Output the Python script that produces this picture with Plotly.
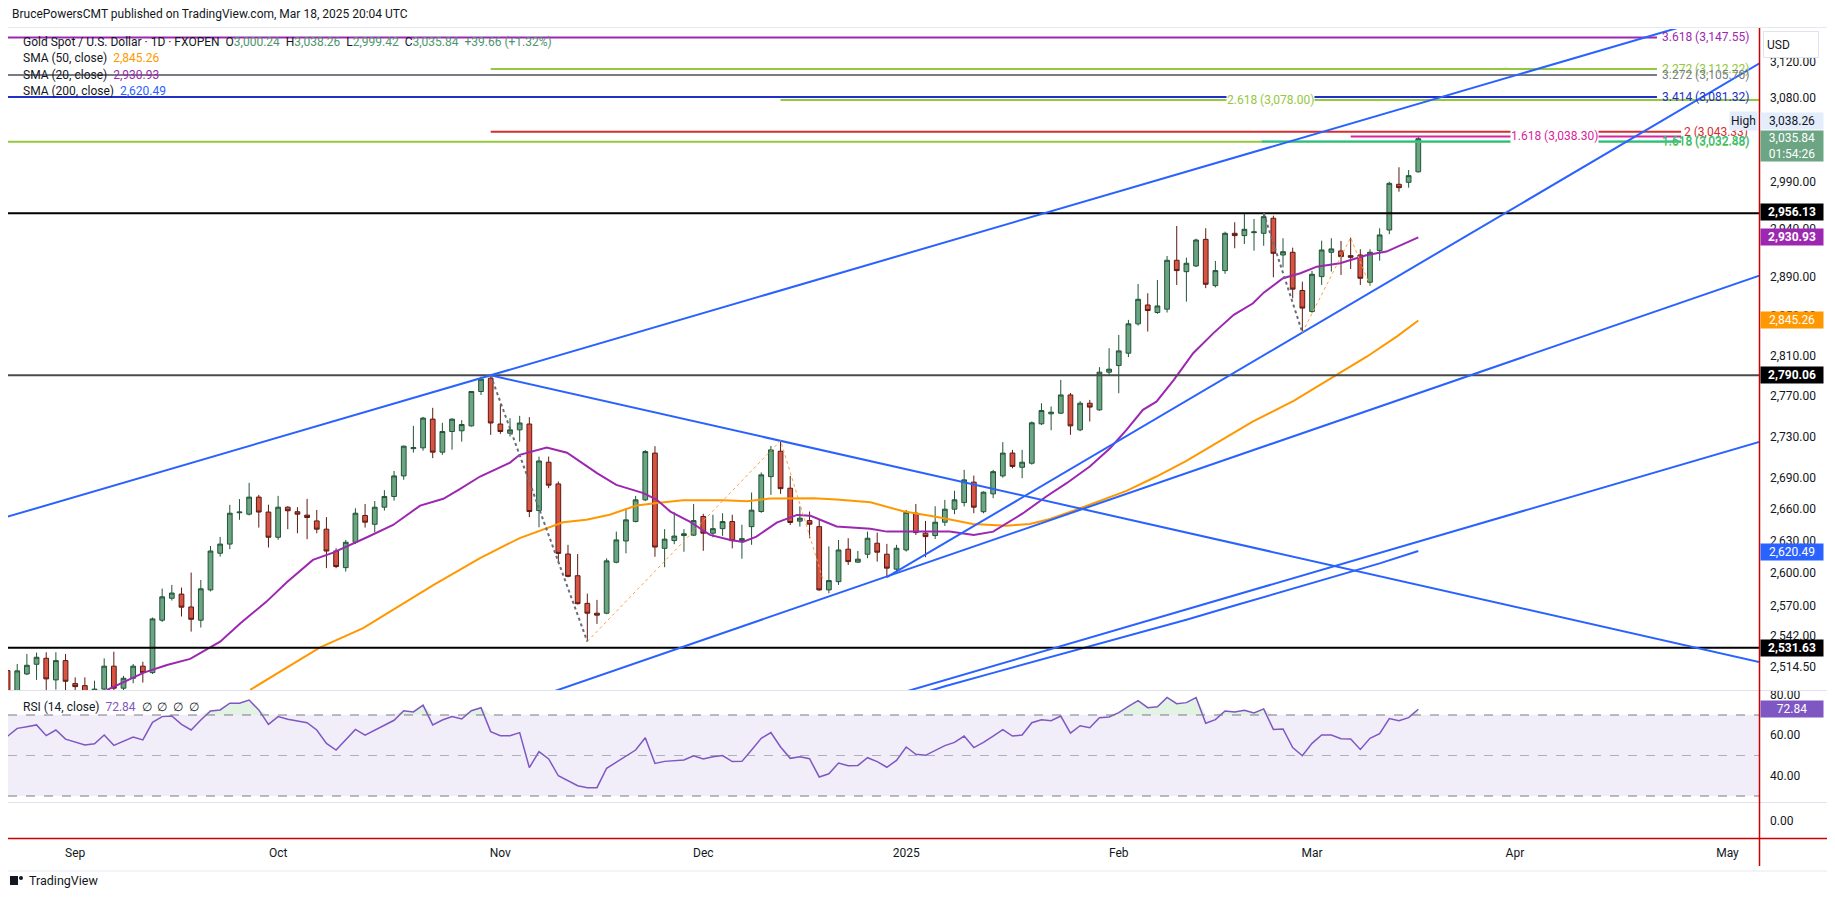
import math
import numpy as np
import pandas as pd
import plotly.graph_objects as go

# ---------------------------------------------------------------- data
HOLIDAYS = ["2024-12-25", "2025-01-01"]
FIRST_DAY = "2024-08-22"
LAST_DAY = "2025-03-18"
AXIS_END_DAY = "2025-05-09"
BAR0_DAY = "2024-09-02"

OPEN = [2511.0, 2485.0, 2508.0, 2516.7, 2522.1, 2502.7, 2520.0,
        2499.4, 2497.6, 2491.0, 2494.5, 2515.0, 2495.3, 2504.2, 2515.0, 2509.2, 2556.6, 2576.7, 2580.5, 2568.7,
        2556.6, 2584.4, 2618.4, 2627.0, 2656.5, 2655.2, 2671.4, 2657.2,
        2633.4, 2661.8, 2657.5, 2654.3, 2648.8, 2641.0, 2620.5, 2605.0, 2628.7, 2653.9, 2645.6, 2661.8, 2672.0,
        2691.7, 2718.0, 2718.8, 2746.8, 2714.6, 2734.7, 2735.4, 2740.2, 2774.0, 2787.2,
        2742.0, 2733.0, 2736.3, 2742.0, 2658.6, 2704.9, 2684.0, 2617.7, 2597.5, 2572.0, 2563.0, 2563.0, 2610.0,
        2629.9, 2648.2, 2668.8, 2713.7, 2623.0, 2630.3, 2635.0, 2635.4,
        2653.0, 2637.2, 2641.5, 2648.2, 2630.2, 2643.4, 2657.7, 2691.0, 2715.5, 2679.9, 2648.6, 2649.1, 2643.4,
        2584.4, 2592.0, 2622.2, 2610.1, 2617.5, 2627.8, 2617.5, 2603.6,
        2621.5, 2656.1, 2637.2, 2635.0, 2647.6, 2659.9, 2666.2, 2685.7, 2657.5, 2674.5, 2691.7, 2713.7, 2700.0,
        2703.9, 2742.2, 2752.0, 2752.6, 2770.6, 2736.3, 2762.4, 2755.9, 2793.2,
        2799.8, 2812.2, 2841.8, 2861.0, 2853.3, 2856.7, 2907.0, 2895.2, 2901.1, 2928.8, 2880.8, 2896.3, 2935.1,
        2932.7, 2935.8, 2935.1, 2950.9, 2912.5, 2915.3, 2875.8,
        2854.3, 2890.1, 2915.3, 2916.7, 2911.8, 2912.5, 2884.3, 2917.0, 2938.6, 2986.9, 2989.0, 3000.24]
HIGH = [2514.0, 2517.0, 2526.0, 2527.2, 2527.5, 2527.5, 2526.0,
        2505.0, 2505.0, 2502.0, 2522.0, 2528.0, 2506.3, 2517.0, 2519.0, 2559.0, 2585.6, 2589.0, 2586.5, 2600.4,
        2593.6, 2625.2, 2633.7, 2664.0, 2669.5, 2685.0, 2673.5, 2664.2,
        2672.6, 2662.7, 2661.8, 2669.7, 2659.2, 2652.4, 2623.0, 2630.9, 2660.8, 2664.9, 2667.7, 2678.0, 2696.5,
        2721.0, 2740.2, 2749.0, 2757.9, 2743.2, 2747.5, 2745.8, 2774.5, 2788.8, 2790.06,
        2761.8, 2747.7, 2750.0, 2748.7, 2710.3, 2710.3, 2686.3, 2626.3, 2617.7, 2581.0, 2575.2, 2613.7, 2638.7,
        2660.8, 2672.6, 2716.5, 2720.4, 2641.0, 2656.8, 2641.0, 2664.9,
        2655.5, 2654.6, 2656.1, 2654.6, 2645.2, 2675.8, 2695.0, 2720.6, 2725.8, 2691.7, 2662.7, 2657.7, 2650.5,
        2624.8, 2630.9, 2632.5, 2620.6, 2638.7, 2637.8, 2627.2, 2626.3,
        2659.2, 2664.9, 2648.8, 2662.7, 2668.8, 2677.4, 2697.5, 2692.0, 2677.0, 2697.5, 2724.3, 2716.8, 2716.8,
        2744.5, 2762.4, 2759.2, 2785.5, 2772.5, 2764.5, 2765.7, 2798.2, 2817.2,
        2830.6, 2845.8, 2882.5, 2873.0, 2886.6, 2911.4, 2942.8, 2909.7, 2929.5, 2940.4, 2906.3, 2936.8, 2946.7,
        2955.4, 2950.2, 2956.13, 2953.6, 2929.9, 2920.1, 2884.9,
        2896.0, 2927.4, 2929.9, 2927.1, 2930.6, 2918.5, 2918.5, 2940.4, 2989.5, 3005.1, 3002.2, 3038.26]
LOW = [2471.0, 2483.0, 2507.0, 2502.7, 2492.0, 2494.0, 2491.0,
       2488.0, 2472.0, 2484.0, 2490.0, 2485.0, 2486.0, 2499.7, 2500.3, 2508.0, 2555.0, 2574.6, 2560.0, 2546.2,
       2549.9, 2583.0, 2615.3, 2622.2, 2649.8, 2654.0, 2642.5, 2623.8,
       2631.0, 2641.0, 2637.2, 2631.6, 2637.2, 2604.5, 2604.5, 2601.3, 2627.0, 2642.5, 2638.1, 2658.6, 2668.0,
       2688.0, 2714.2, 2716.0, 2708.8, 2712.0, 2717.0, 2724.8, 2739.5, 2770.6, 2731.4,
       2732.4, 2729.8, 2724.8, 2652.4, 2642.8, 2679.9, 2609.1, 2596.0, 2571.0, 2537.2, 2553.2, 2562.0, 2609.0,
       2618.3, 2647.5, 2667.5, 2615.1, 2605.4, 2626.9, 2619.8, 2634.5,
       2620.7, 2633.4, 2634.7, 2623.0, 2613.3, 2626.3, 2656.5, 2673.5, 2674.5, 2645.0, 2643.4, 2632.5, 2583.5,
       2581.3, 2589.0, 2607.5, 2609.5, 2613.8, 2610.6, 2596.1, 2601.0,
       2620.0, 2635.6, 2614.8, 2631.8, 2644.0, 2655.2, 2662.5, 2656.1, 2656.0, 2670.4, 2690.0, 2699.0, 2689.5,
       2702.5, 2741.0, 2735.9, 2752.0, 2731.4, 2735.0, 2744.5, 2755.0, 2790.5,
       2772.3, 2808.2, 2840.1, 2834.0, 2852.0, 2853.3, 2881.5, 2864.4, 2900.0, 2878.2, 2879.0, 2893.0, 2919.5,
       2923.9, 2917.0, 2922.1, 2889.4, 2899.7, 2867.9, 2833.0,
       2853.0, 2881.5, 2895.3, 2891.8, 2898.0, 2881.5, 2880.8, 2906.6, 2934.2, 2979.0, 2983.3, 2999.42]
CLOSE = [2485.0, 2510.8, 2515.8, 2523.0, 2503.6, 2520.0, 2501.5,
         2496.7, 2491.0, 2494.5, 2515.0, 2495.3, 2504.2, 2515.0, 2509.2, 2557.8, 2578.0, 2581.5, 2568.5, 2557.4,
         2585.4, 2620.5, 2627.0, 2656.1, 2657.2, 2671.4, 2657.2, 2633.4,
         2661.8, 2658.4, 2655.2, 2652.0, 2641.0, 2620.5, 2606.0, 2628.7, 2656.1, 2647.6, 2661.8, 2672.0, 2691.7,
         2720.4, 2719.0, 2747.8, 2714.6, 2734.7, 2746.8, 2741.5, 2774.0, 2786.2, 2743.0,
         2734.7, 2736.3, 2743.0, 2657.7, 2706.1, 2682.8, 2618.3, 2596.9, 2571.7, 2563.0, 2561.2, 2611.3, 2630.9,
         2649.8, 2668.8, 2715.2, 2624.2, 2631.6, 2634.5, 2636.7, 2649.1,
         2637.2, 2641.5, 2648.2, 2630.2, 2632.1, 2659.0, 2692.7, 2716.8, 2679.5, 2647.3, 2651.4, 2645.7, 2584.4,
         2593.0, 2621.5, 2610.6, 2612.9, 2632.5, 2619.4, 2604.5, 2623.1,
         2657.0, 2637.8, 2634.0, 2647.6, 2659.9, 2668.8, 2687.9, 2661.8, 2676.1, 2695.8, 2713.7, 2700.8, 2704.9,
         2743.2, 2755.2, 2753.6, 2770.6, 2740.2, 2762.4, 2758.6, 2793.2, 2796.2,
         2814.5, 2841.8, 2866.8, 2855.3, 2860.0, 2907.0, 2896.3, 2903.9, 2928.1, 2882.2, 2896.3, 2935.1, 2932.7,
         2939.3, 2936.6, 2952.6, 2914.2, 2915.9, 2877.2, 2857.8,
         2892.5, 2917.7, 2918.8, 2910.8, 2910.1, 2888.4, 2915.3, 2933.4, 2987.9, 2983.3, 2996.1, 3035.84]

RSI = [59.5, 63.4, 64.2, 65.1, 59.8, 62.6, 58.1,
       56.8, 55.2, 55.8, 60.1, 55.0, 57.2, 59.1, 57.7, 66.4, 69.2, 69.5, 65.4, 62.6, 67.5, 72.0, 72.5, 75.8,
       75.8, 77.4, 72.5, 65.4,
       69.2, 67.9, 67.0, 66.2, 62.6, 56.0, 52.7, 58.0, 62.9, 60.1, 62.6, 64.7, 67.4, 72.1, 71.5, 74.9, 65.1,
       67.5, 69.2, 68.0, 72.1, 73.6, 61.8,
       59.8, 59.8, 61.3, 44.0, 51.9, 48.3, 40.0, 37.6, 35.1, 34.1, 34.1, 43.7, 46.6, 49.8, 52.7, 58.8, 46.1,
       47.1, 47.4, 47.8, 49.9,
       48.3, 49.4, 50.0, 47.0, 47.1, 52.7, 58.5, 61.3, 54.2, 48.6, 49.4, 48.4, 39.4, 41.0, 46.3, 45.0, 45.1,
       48.9, 47.0, 44.2, 47.6,
       54.2, 50.6, 50.1, 52.6, 54.9, 56.5, 59.6, 53.9, 56.5, 59.6, 62.8, 59.6, 60.1, 66.2, 67.7, 67.2, 69.5,
       61.1, 64.7, 63.7, 68.7, 69.0,
       71.2, 74.3, 77.1, 73.6, 74.1, 78.7, 75.6, 76.1, 78.6, 65.9, 67.7, 72.0, 71.5, 72.3, 71.0, 73.0, 62.9,
       63.1, 53.9, 49.9,
       56.0, 60.1, 60.1, 58.3, 58.1, 53.0, 58.5, 60.8, 68.2, 67.2, 68.7, 72.84]

# moving averages (bar number counted from 2024-09-02, price)
SMA20_BAR = [3.3, 7.1, 9.5, 11.9, 15.0, 17.1, 19.8, 21.9, 24.6, 26.7, 30.2, 32.9, 35.7, 38.1, 39.8, 41.9,
             45.0, 46.0, 48.8, 50.9, 54.0, 56.0, 58.8, 60.2, 61.6, 63.6, 65.7, 67.8, 69.1, 70.5, 72.6, 74.7,
             76.1, 78.8, 82.3, 84.0, 87.4, 90.5, 93.0, 95.0, 98.1, 100.5, 102.6, 105.0, 107.1, 108.8, 110.5,
             111.9, 113.7, 115.7, 117.8, 119.9, 121.9, 123.0, 125.0, 126.8, 128.5, 130.9, 133.7, 135.7, 139.0]
SMA20_VAL = [2493.8, 2509.2, 2516.1, 2521.5, 2537.1, 2553.9, 2573.6, 2591.5, 2612.2, 2619.0, 2633.4, 2645.0,
             2663.3, 2669.8, 2679.0, 2691.1, 2704.5, 2712.0, 2719.0, 2714.1, 2694.3, 2683.1, 2675.2, 2668.8,
             2657.6, 2648.2, 2635.6, 2630.9, 2629.0, 2634.0, 2647.2, 2654.5, 2653.6, 2643.5, 2641.3, 2638.7,
             2638.7, 2638.7, 2635.6, 2638.7, 2656.1, 2672.0, 2684.7, 2700.7, 2718.4, 2736.3, 2755.9, 2764.0,
             2785.5, 2812.2, 2832.4, 2850.9, 2862.7, 2873.6, 2888.4, 2893.6, 2900.4, 2903.9, 2912.5, 2916.0,
             2930.93]
SMA50_BAR = [18.1, 25.3, 29.8, 34.0, 37.1, 41.9, 43.0, 46.0, 50.5, 52.9, 55.3, 58.1, 60.2, 62.9, 67.1, 69.5,
             71.9, 76.4, 78.8, 82.3, 85.7, 89.5, 92.9, 96.4, 98.8, 100.9, 104.3, 108.8, 111.9, 115.0, 118.1,
             121.9, 126.1, 130.2, 133.7, 136.8, 139.0]
SMA50_VAL = [2493.8, 2531.7, 2549.3, 2572.2, 2589.1, 2613.9, 2619.1, 2632.6, 2647.5, 2650.0, 2654.7, 2663.4,
             2665.9, 2668.4, 2668.4, 2667.5, 2670.1, 2670.4, 2669.1, 2666.5, 2657.9, 2652.1, 2645.9, 2644.3,
             2645.9, 2650.6, 2661.7, 2677.3, 2691.1, 2706.2, 2723.3, 2744.5, 2764.8, 2788.1, 2808.9, 2829.1,
             2845.26]
SMA200_BAR = [85, 90, 95, 100, 105, 110, 115, 120, 125, 130, 135, 139]
SMA200_VAL = [2484.0, 2497.0, 2509.0, 2521.0, 2533.0, 2545.0, 2557.0, 2570.0, 2583.0, 2596.0, 2609.0, 2620.49]

# drawn trend lines: (bar, price) anchor pairs
TRENDLINES = [
    [(-7, 2652.8), (170, 3171.6)],    # upper channel line through the Oct 31 high
    [(84, 2487.4), (176, 2729.3)],    # parallel lower channel line
    [(40, 2464.4), (176, 2897.0)],    # long rising support
    [(84, 2596.1), (176, 3129.4)],    # Dec 30 low -> Feb 28 low
    [(43, 2790.06), (176, 2515.4)],   # Oct 31 high -> Dec 12 high
]
HLINES = [2956.13, 2790.06, 2531.63]
HLINE_COLORS = ["#000000", "#4a4a4a", "#000000"]

# fib-extension swing paths
SWING_GRAY = [[(43, 2790.06), (53, 2537.2)], [(123, 2956.13), (127, 2833.0)]]
SWING_ORANGE = [[(53, 2537.2), (73, 2725.8), (77.4, 2593.6)], [(127, 2833.0), (132, 2930.6), (134, 2880.8)]]

# fib levels: price, label, from bar, to bar
FIB_PRICE = [3147.55, 3112.22, 3105.70, 3081.32, 3078.00, 3043.33, 3038.30, 3032.48, 3032.88]
FIB_TEXT = ["3.618 (3,147.55)", "2.272 (3,112.22)", "3.272 (3,105.70)", "3.414 (3,081.32)",
            "2.618 (3,078.00)", "2 (3,043.33)", "1.618 (3,038.30)", "1.618 (3,032.48)", "1.618 (3,032.88)"]
FIB_FROM = [-7, 43, -7, -7, 73, 43, 132, -7, 122.8]
FIB_TO = [163.7, 163.7, 163.7, 163.7, 176, 166.2, 166.2, 166.2, 166.2]
FIB_COLOR = ["#9c27b0", "#94c83d", "#787b86", "#2130c8", "#94c83d", "#d32f2f", "#d6269b", "#94c83d", "#22c08e"]
FIB_LABEL_MODE = ["right", "right", "right", "right", "mid", "right2", "mid", "right", "right"]

MONTH_TICKS = ["2024-09-02", "2024-10-01", "2024-11-01", "2024-12-02", "2025-01-02", "2025-02-03",
               "2025-03-03", "2025-04-01", "2025-05-01"]
MONTH_TEXT = ["Sep", "Oct", "Nov", "Dec", "2025", "Feb", "Mar", "Apr", "May"]

PRICE_TICKS = [3120, 3080, 2990, 2940, 2890, 2850, 2810, 2770, 2730, 2690, 2660, 2630, 2600, 2570, 2542, 2514.5]
RSI_TICKS = [80, 60, 40]

# ---------------------------------------------------------------- calendar / positions
cal = pd.bdate_range(FIRST_DAY, AXIS_END_DAY)
cal = cal[~cal.isin(pd.to_datetime(HOLIDAYS))]
pos0 = cal.get_loc(pd.Timestamp(BAR0_DAY))


def bar_of(day):
    return cal.get_loc(pd.Timestamp(day)) - pos0


n_bars = int((cal <= pd.Timestamp(LAST_DAY)).sum())
XB = np.arange(n_bars) - pos0
assert len(OPEN) == len(HIGH) == len(LOW) == len(CLOSE) == len(RSI) == n_bars

# ---------------------------------------------------------------- layout geometry
# the page body adds an 8px margin, so the figure is placed 8px right / 8px down
PAGE_OFF = 8
W, H = 1835 - PAGE_OFF, 901 - PAGE_OFF
PLOT_L, PLOT_R, PLOT_T, PLOT_B = 8, 1759, 29, 838       # page pixels
ML, MT = PLOT_L - PAGE_OFF, PLOT_T - PAGE_OFF
MR, MB = W - (PLOT_R - PAGE_OFF), H - (PLOT_B - PAGE_OFF)
PW, PH = PLOT_R - PLOT_L, PLOT_B - PLOT_T
FONT = "Roboto, Arial, sans-serif"
TXT = "#131722"


def px(x):
    return (x - PLOT_L) / PW


def py(y):
    return (PLOT_B - y) / PH


X_RANGE = [-6.955, 174.26]
Y_RANGE = [math.log10(2493.7), math.log10(3157.1)]
RSI_RANGE = [27.04, 81.85]

fig = go.Figure()

# candles
fig.add_trace(go.Candlestick(
    x=XB, open=OPEN, high=HIGH, low=LOW, close=CLOSE,
    increasing=dict(fillcolor="#6ba583", line=dict(color="#225437", width=1)),
    decreasing=dict(fillcolor="#d75442", line=dict(color="#5b1a13", width=1)),
    whiskerwidth=0, showlegend=False, hoverinfo="skip", xaxis="x", yaxis="y"))

# moving averages
for bx, vals, col in [(SMA200_BAR, SMA200_VAL, "#2962ff"), (SMA50_BAR, SMA50_VAL, "#ff9800"),
                      (SMA20_BAR, SMA20_VAL, "#9c27b0")]:
    fig.add_trace(go.Scatter(x=bx, y=vals, mode="lines", line=dict(color=col, width=2),
                             showlegend=False, hoverinfo="skip", xaxis="x", yaxis="y"))

# horizontal levels
for lvl, col in zip(HLINES, HLINE_COLORS):
    fig.add_trace(go.Scatter(x=[X_RANGE[0] - 1, X_RANGE[1] + 1], y=[lvl, lvl], mode="lines",
                             line=dict(color=col, width=2), showlegend=False, hoverinfo="skip"))

# fib levels
for p, a, b, c in zip(FIB_PRICE, FIB_FROM, FIB_TO, FIB_COLOR):
    fig.add_trace(go.Scatter(x=[a, b], y=[p, p], mode="lines", line=dict(color=c, width=2),
                             showlegend=False, hoverinfo="skip"))

# trend lines
for seg in TRENDLINES:
    fig.add_trace(go.Scatter(x=[q[0] for q in seg], y=[q[1] for q in seg], mode="lines",
                             line=dict(color="#2962ff", width=2), showlegend=False, hoverinfo="skip"))

# swing paths
for seg in SWING_GRAY:
    fig.add_trace(go.Scatter(x=[q[0] for q in seg], y=[q[1] for q in seg], mode="lines",
                             line=dict(color="#6a6d78", width=2, dash="dot"), showlegend=False,
                             hoverinfo="skip"))
for seg in SWING_ORANGE:
    fig.add_trace(go.Scatter(x=[q[0] for q in seg], y=[q[1] for q in seg], mode="lines",
                             line=dict(color="#ffa040", width=1, dash="dot"), showlegend=False,
                             hoverinfo="skip"))

# RSI pane
rsi_top = [max(v, 70) for v in RSI]
fig.add_trace(go.Scatter(x=XB, y=[70] * n_bars, mode="lines", line=dict(width=0), showlegend=False,
                         hoverinfo="skip", xaxis="x", yaxis="y2"))
fig.add_trace(go.Scatter(x=XB, y=rsi_top, mode="lines", line=dict(width=0), fill="tonexty",
                         fillcolor="rgba(76,175,80,0.16)", showlegend=False, hoverinfo="skip",
                         xaxis="x", yaxis="y2"))
fig.add_trace(go.Scatter(x=XB, y=RSI, mode="lines", line=dict(color="#7e57c2", width=1.5),
                         showlegend=False, hoverinfo="skip", xaxis="x", yaxis="y2"))
# third (empty) pane placeholder
fig.add_trace(go.Scatter(x=[XB[0]], y=[5], mode="markers", marker=dict(opacity=0), showlegend=False,
                         hoverinfo="skip", xaxis="x", yaxis="y3"))

shapes = []
shapes.append(dict(type="rect", xref="paper", yref="y2", x0=0, x1=1, y0=30, y1=70,
                   fillcolor="rgba(126,87,194,0.10)", line=dict(width=0), layer="below"))
for lv, col in [(70, "#787b86"), (30, "#787b86"), (50, "rgba(120,123,134,0.55)")]:
    shapes.append(dict(type="line", xref="paper", yref="y2", x0=0, x1=1, y0=lv, y1=lv,
                       line=dict(color=col, width=1, dash="dash")))
for yy in [690.5, 802.5]:
    shapes.append(dict(type="line", xref="paper", yref="paper", x0=0, x1=px(1828), y0=py(yy), y1=py(yy),
                       line=dict(color="#e0e3eb", width=1)))
shapes.append(dict(type="rect", xref="paper", yref="paper", x0=px(7.5), x1=px(1828.5), y0=py(871),
                   y1=py(27.5), line=dict(color="#e6e8ee", width=1)))
shapes.append(dict(type="line", xref="paper", yref="paper", x0=0, x1=px(1828), y0=py(838.5), y1=py(838.5),
                   line=dict(color="#cc0000", width=1.5)))
shapes.append(dict(type="line", xref="paper", yref="paper", x0=px(1759.5), x1=px(1759.5), y0=py(866),
                   y1=py(28), line=dict(color="#cc0000", width=1.5)))
shapes.append(dict(type="rect", xref="paper", yref="paper", x0=px(10), x1=px(18), y0=py(885), y1=py(876),
                   fillcolor="#131722", line=dict(width=0)))
shapes.append(dict(type="circle", xref="paper", yref="paper", x0=px(19), x1=px(23), y0=py(880), y1=py(876),
                   fillcolor="#131722", line=dict(width=0)))

ann = []


def add_text(x, y, text, size=12, color=TXT, xanchor="left", **kw):
    ann.append(dict(xref="paper", yref="paper", x=px(x), y=py(y), text=text, showarrow=False,
                    xanchor=xanchor, yanchor="middle", font=dict(family=FONT, size=size, color=color), **kw))


add_text(10, 14, "BrucePowersCMT published on TradingView.com, Mar 18, 2025 20:04 UTC", size=12)
G = "#4f9470"
sp = "\u00a0\u00a0"
add_text(21, 42, "Gold Spot / U.S. Dollar · 1D · FXOPEN" + sp +
         f"O<span style='color:{G}'>3,000.24</span>" + sp + f"H<span style='color:{G}'>3,038.26</span>" + sp +
         f"L<span style='color:{G}'>2,999.42</span>" + sp + f"C<span style='color:{G}'>3,035.84</span>" + sp +
         f"<span style='color:{G}'>+39.66 (+1.32%)</span>", size=12)
add_text(21, 58.5, "SMA (50, close)" + sp + "<span style='color:#ff9800'>2,845.26</span>", size=12)
add_text(21, 75, "SMA (20, close)" + sp + "<span style='color:#9c27b0'>2,930.93</span>", size=12)
add_text(21, 91, "SMA (200, close)" + sp + "<span style='color:#2962ff'>2,620.49</span>", size=12)
add_text(21, 707, "RSI (14, close)" + sp + "<span style='color:#7e57c2'>72.84</span>" + sp +
         "∅\u00a0\u00a0∅\u00a0\u00a0∅\u00a0\u00a0∅", size=12)
add_text(27, 880, "TradingView", size=12.5)

# USD box
ann.append(dict(xref="paper", yref="paper", x=px(1763), y=py(44.5), xanchor="left", yanchor="middle",
                text="USD", showarrow=False, width=48, height=19, align="left", borderpad=3,
                bgcolor="white", bordercolor="#e0e3eb", borderwidth=1,
                font=dict(family=FONT, size=12, color=TXT)))

# fib labels
for p, t, c, m, b in zip(FIB_PRICE, FIB_TEXT, FIB_COLOR, FIB_LABEL_MODE, FIB_TO):
    if m == "mid":
        continue
    ann.append(dict(xref="x", yref="y", x=b + 0.1 if m == "right2" else 164.0, y=math.log10(p),
                    xanchor="left", yanchor="middle", text=t, showarrow=False,
                    font=dict(family=FONT, size=12, color=c)))
for p, t, c, xm in [(3078.00, "2.618 (3,078.00)", "#94c83d", 123.7), (3038.30, "1.618 (3,038.30)", "#d6269b", 153.1)]:
    ann.append(dict(xref="x", yref="y", x=xm, y=math.log10(p), xanchor="center", yanchor="middle", text=t,
                    showarrow=False, bgcolor="white", borderpad=0,
                    font=dict(family=FONT, size=12, color=c)))


def axis_label(price, text, bg, fg="white", yshift=0, h=16, ref="y"):
    yv = math.log10(price) if ref == "y" else price
    ann.append(dict(xref="paper", yref=ref, x=1, y=yv, xanchor="left", yanchor="middle", xshift=0.5,
                    yshift=yshift, text=text, showarrow=False, bgcolor=bg, width=62, height=h,
                    borderpad=0, align="center", font=dict(family=FONT, size=12, color=fg)))


axis_label(3038.26, "3,038.26", "#e3edfc", fg=TXT, yshift=16)
ann.append(dict(xref="paper", yref="y", x=1, y=math.log10(3038.26), xanchor="right", yanchor="middle",
                xshift=-1, yshift=16, text="High", showarrow=False, bgcolor="#e3edfc", height=16,
                borderpad=1, font=dict(family=FONT, size=12, color=TXT)))
axis_label(3035.84, "3,035.84<br>01:54:26", "#6ba583", yshift=-7, h=30)
axis_label(2956.13, "<b>2,956.13</b>", "#000000", yshift=1)
axis_label(2930.93, "<b>2,930.93</b>", "#9c27b0")
axis_label(2845.26, "2,845.26", "#ff9800")
axis_label(2790.06, "<b>2,790.06</b>", "#000000")
axis_label(2620.49, "2,620.49", "#2962ff", yshift=-1)
axis_label(2531.63, "<b>2,531.63</b>", "#000000")
axis_label(72.84, "72.84", "#7e57c2", ref="y2")

fig.update_layout(
    width=W, height=H, margin=dict(l=ML, r=MR, t=MT, b=MB, pad=0),
    paper_bgcolor="white", plot_bgcolor="white", showlegend=False,
    font=dict(family=FONT, size=12, color=TXT),
    xaxis=dict(domain=[0, 1], anchor="y3", range=X_RANGE, tickmode="array",
               tickvals=[bar_of(d) for d in MONTH_TICKS], ticktext=MONTH_TEXT, showgrid=False,
               zeroline=False, showline=False, ticks="", ticklabelstandoff=6,
               tickfont=dict(family=FONT, size=12, color=TXT), rangeslider=dict(visible=False)),
    yaxis=dict(domain=[py(690), 1], anchor="x", type="log", range=Y_RANGE, side="right",
               tickmode="array", tickvals=PRICE_TICKS, ticktext=[f"{v:,.2f}" for v in PRICE_TICKS],
               showgrid=False, zeroline=False, showline=False, ticks="", ticklabelstandoff=10,
               tickfont=dict(family=FONT, size=12, color=TXT)),
    yaxis2=dict(domain=[py(802), py(691)], anchor="x", range=RSI_RANGE, side="right", tickmode="array",
                tickvals=RSI_TICKS, ticktext=[f"{v:.2f}" for v in RSI_TICKS], showgrid=False,
                zeroline=False, ticks="", ticklabelstandoff=10,
                tickfont=dict(family=FONT, size=12, color=TXT)),
    yaxis3=dict(domain=[0, py(803)], anchor="x", range=[-1, 1], side="right", tickmode="array",
                tickvals=[0], ticktext=["0.00"], showgrid=False, zeroline=False, ticks="",
                ticklabelstandoff=10, tickfont=dict(family=FONT, size=12, color=TXT)),
    shapes=shapes, annotations=ann,
)

fig.write_html("out.html")
